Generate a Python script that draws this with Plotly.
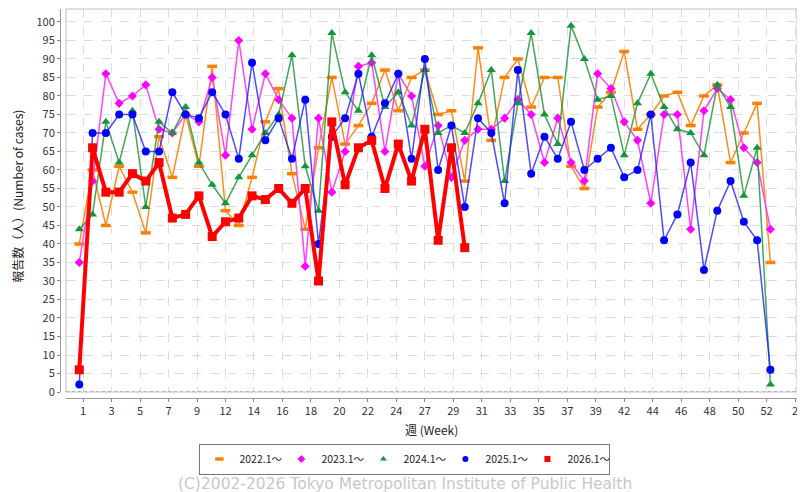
import plotly.graph_objects as go

# week numbers (1..53) and weekly case counts per season
weeks = list(range(1, 54))

cases_2022 = [40, 60, 45, 61, 54, 43, 69, 58, 75, 61, 88, 49, 45, 58, 73, 82, 59, 44, 66, 85,
              67, 72, 78, 87, 76, 85, 87, 75, 76, 57, 93, 68, 85, 90, 77, 85, 85, 61, 55, 77,
              81, 92, 71, 75, 80, 81, 72, 80, 83, 62, 70, 78, 35]
cases_2023 = [35, 57, 86, 78, 80, 83, 71, 70, 75, 73, 85, 64, 95, 71, 86, 79, 74, 34, 74, 54,
              65, 88, 89, 65, 86, 80, 61, 72, 58, 68, 71, 71, 74, 79, 75, 62, 74, 62, 57, 86,
              82, 73, 68, 51, 75, 75, 44, 76, 82, 79, 66, 62, 44]
cases_2024 = [44, 48, 73, 62, 76, 50, 73, 70, 77, 62, 56, 51, 58, 64, 70, 75, 91, 61, 49, 97,
              81, 76, 91, 77, 81, 72, 87, 70, 72, 70, 78, 87, 57, 78, 97, 75, 67, 99, 90, 79,
              80, 64, 78, 86, 77, 71, 70, 64, 83, 77, 53, 66, 2]
cases_2025 = [2, 70, 70, 75, 75, 65, 65, 81, 75, 74, 81, 75, 63, 89, 68, 74, 63, 79, 40, 69,
              74, 86, 69, 78, 86, 63, 90, 60, 72, 50, 74, 70, 51, 87, 59, 69, 63, 73, 60, 63,
              66, 58, 60, 75, 41, 48, 62, 33, 49, 57, 46, 41, 6]
cases_2026 = [6, 66, 54, 54, 59, 57, 62, 47, 48, 53, 42, 46, 47, 53, 52, 55, 51, 55, 30, 73,
              56, 66, 68, 55, 67, 57, 71, 41, 66, 39]

season_names = ["2022.1～", "2023.1～", "2024.1～", "2025.1～", "2026.1～"]

x_tick_labels = ["1", "3", "5", "7", "9", "12", "14", "16", "18", "20", "22", "24", "27",
                 "29", "31", "33", "35", "37", "39", "42", "44", "46", "48", "50", "52", "2"]
# ticks fall every 15 days along the week axis
x_tick_pos = [1 + (2 + 15 * k) / 7 for k in range(len(x_tick_labels))]

styles = [
    dict(line=dict(color="#ff8c1a", width=1.5),
         marker=dict(symbol="line-ew", size=7, line=dict(color="#ff7f00", width=3.5))),
    dict(line=dict(color="#ff44ff", width=1.5),
         marker=dict(symbol="diamond", size=7, color="#ff00ff")),
    dict(line=dict(color="rgba(34,150,60,0.85)", width=1.5),
         marker=dict(symbol="triangle-up", size=8, color="#13963a")),
    dict(line=dict(color="rgba(30,30,255,0.8)", width=1.5),
         marker=dict(symbol="circle", size=8, color="#0000ff")),
    dict(line=dict(color="#ff0000", width=4),
         marker=dict(symbol="square", size=9, color="#ff0000")),
]

fig = go.Figure()

all_series = [cases_2022, cases_2023, cases_2024, cases_2025, cases_2026]
for name, vals, st in zip(season_names, all_series, styles):
    fig.add_trace(go.Scatter(
        x=weeks[:len(vals)], y=vals, mode="lines+markers",
        line=st["line"], marker=st["marker"],
        name=name, legendgroup=name, showlegend=False,
    ))

# legend entries show only the marker
for name, st in zip(season_names, styles):
    m = dict(st["marker"])
    m["size"] = 6
    fig.add_trace(go.Scatter(
        x=[None], y=[None], mode="markers", marker=m,
        name=name, legendgroup=name, showlegend=True,
    ))

# axes sit a few px away from the plot area (like the original chart)
x_gap = 6 / 737
y_gap = 6 / 389

# plot border and zero base line
fig.add_shape(type="rect", xref="paper", yref="paper", x0=x_gap, x1=1, y0=y_gap, y1=1,
              line=dict(color="#c0c0c0", width=1))
fig.add_shape(type="line", xref="paper", yref="y", x0=x_gap, x1=1, y0=0, y1=0,
              line=dict(color="#8080d0", width=1, dash="dot"))

# page body adds an 8px margin, so the figure is sized to fit the window
fig.update_layout(
    width=797, height=484,
    margin=dict(l=52, r=8, t=1, b=94),
    paper_bgcolor="white", plot_bgcolor="white",
    font=dict(family="Noto Sans CJK JP, Noto Sans, sans-serif", size=11, color="#333333"),
    xaxis=dict(
        domain=[x_gap, 1], anchor="free", position=0,
        range=[0, 55], tickmode="array", tickvals=x_tick_pos, ticktext=x_tick_labels,
        showgrid=True, gridcolor="#dcdcdc", griddash="dash", gridwidth=1,
        ticks="outside", ticklen=3, tickcolor="#888888",
        showline=True, linecolor="#999999", zeroline=False,
        tickfont=dict(size=11, color="#333333"),
    ),
    yaxis=dict(
        domain=[y_gap, 1], anchor="free", position=0,
        range=[0, 103.5], tickmode="linear", tick0=0, dtick=5,
        showgrid=True, gridcolor="#dcdcdc", griddash="dash", gridwidth=1,
        ticks="outside", ticklen=3, tickcolor="#888888",
        showline=True, linecolor="#999999", zeroline=False,
        tickfont=dict(size=11, color="#333333"),
    ),
    legend=dict(
        orientation="h", x=0.468, xanchor="center", y=-0.117, yanchor="top",
        bordercolor="#777777", borderwidth=1, font=dict(size=10.5, color="#222222"),
        itemwidth=30, entrywidth=37, entrywidthmode="pixels", tracegroupgap=0,
    ),
    annotations=[
        dict(text="週 (Week)", xref="paper", yref="paper", x=0.504, y=-0.082,
             xanchor="center", yanchor="middle", showarrow=False,
             font=dict(size=12, color="#222222")),
        dict(text="報告数（人）(Number of cases)", xref="paper", yref="paper",
             x=-0.057, y=0.52, textangle=-90, xanchor="center", yanchor="middle",
             showarrow=False, font=dict(size=12, color="#222222")),
        dict(text="(C)2002-2026 Tokyo Metropolitan Institute of Public Health",
             xref="paper", yref="paper", x=0.468, y=-0.221, xanchor="center",
             yanchor="middle", showarrow=False,
             font=dict(family="DejaVu Sans", size=15.5, color="#c8c8c8")),
    ],
)

fig.write_html("out.html")
